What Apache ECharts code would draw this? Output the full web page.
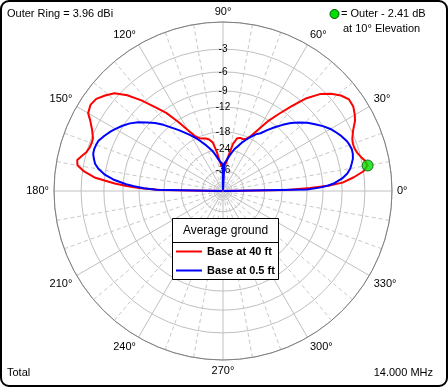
<!DOCTYPE html>
<html><head><meta charset="utf-8">
<script src="https://cdn.jsdelivr.net/npm/echarts@6/dist/echarts.min.js"></script>
<style>html,body{margin:0;padding:0;background:#fff}#c{width:448px;height:387px}</style>
</head><body><div id="c"></div>
<script>
// Elevation angles (degrees) shared by both series
const elev = [0,1,2,3,4,6,8,10,12,14,16,18,20,22,25,28,30,33,36,39,42,45,48,51,54,57,60,63,66,69,72,75,78,81,84,87,89,90,
  91,93,96,99,102,105,108,111,114,117,120,123,126,129,132,135,138,141,144,147,150,152,155,158,160,162,164,166,168,170,172,174,176,177,178,179,180];
// Base at 40 ft (dB relative to outer ring)
const redDb = [-99,-16.7,-11.4,-7.8,-5.9,-4.3,-3.0,-2.41,-2.6,-3.0,-3.3,-3.45,-3.45,-3.3,-2.8,-2.1,-1.8,-1.45,-1.4,-1.85,-2.6,-3.6,-5.2,-7.5,-9.8,-12.0,-14.8,-17.2,-18.6,-19.1,-19.0,-19.4,-21.5,-26.5,-31,-33,-33,-33,
  -33,-33,-30,-24.8,-21,-19.8,-19.2,-18.9,-18.4,-17.3,-15,-12.3,-9.6,-7.7,-5.6,-3.8,-2.5,-1.85,-1.3,-1.15,-1.4,-2.0,-2.7,-3.2,-3.25,-3.2,-3.0,-2.6,-2.16,-2.3,-3.2,-4.6,-7.6,-9.6,-12,-17,-99];
// Base at 0.5 ft
const blueDb = [-99,-12,-9.6,-8.1,-7.1,-5.9,-5.1,-4.6,-4.3,-4.0,-3.85,-3.8,-3.9,-4.05,-4.45,-4.95,-5.3,-6.0,-6.8,-7.6,-8.6,-9.7,-11.0,-12.4,-13.9,-15.4,-16.3,-17.6,-19.0,-20.4,-22.0,-23.5,-25.5,-27.5,-29.5,-31.0,-31.5,-99,
  -31.5,-31,-29.8,-28,-26,-24,-22.5,-21,-19.5,-18.0,-16.6,-15.3,-13.9,-12.5,-11.0,-9.7,-8.6,-7.5,-6.6,-5.9,-5.3,-4.9,-4.4,-3.95,-3.85,-3.8,-3.85,-4.1,-4.4,-5.0,-5.9,-7.3,-9.5,-11.0,-13.0,-16,-99];
const seriesNames = ['Base at 40 ft','Base at 0.5 ft'];
const ringDb = [0,-3,-6,-9,-12,-18,-24,-36,-50];
const ringLabelDb = [-3,-6,-9,-12,-18,-24,-36];
const cursorElev = 10, cursorDb = -2.41;
const outerRing = '3.96 dBi';
const freqText = '14.000 MHz';
const legendTitle = 'Average ground';

// ARRL log scale: each 2 dB = factor 0.89 in radius
const toR = db => Math.pow(0.89, -db / 2);
const FONT = 'Liberation Sans, Arial, sans-serif';
const C = [223, 191], R = 169;

const chart = echarts.init(document.getElementById('c'), null, {renderer: 'canvas'});
const ringR = ringDb.map(toR);
const labelR = ringLabelDb.map(toR);
function labelFor(v) {
  let best = 0, d = 1e9;
  labelR.forEach((r, i) => { if (Math.abs(r - v) < d) { d = Math.abs(r - v); best = i; } });
  return String(ringLabelDb[best]);
}

chart.setOption({
  animation: false,
  backgroundColor: '#fff',
  polar: [{center: C, radius: R}, {center: C, radius: R}],
  angleAxis: [{
    polarIndex: 0, type: 'value', min: 0, max: 360, interval: 30, startAngle: 0, clockwise: false,
    axisLine: {lineStyle: {color: '#808080', width: 1}},
    axisTick: {show: false},
    axisLabel: {margin: 5, color: '#000', fontSize: 11, fontFamily: FONT,
      formatter: v => (v >= 360 ? '' : v + '°')},
    splitLine: {show: true, lineStyle: {color: '#c0c0c0', width: 1}},
    minorTick: {show: false, splitNumber: 3},
    minorSplitLine: {show: true, lineStyle: {color: '#c8c8c8', width: 1, type: [4, 3]}}
  }, {
    polarIndex: 1, type: 'value', min: 0, max: 360, startAngle: 90, show: false
  }],
  radiusAxis: [{
    polarIndex: 0, type: 'value', min: 0, max: 1,
    axisLine: {show: false}, axisLabel: {show: false},
    axisTick: {show: false, customValues: ringR},
    splitLine: {show: true, lineStyle: {color: '#c0c0c0', width: 1}}
  }, {
    polarIndex: 1, type: 'value', min: 0, max: 1,
    axisLine: {show: false}, axisTick: {show: false}, splitLine: {show: false},
    axisLabel: {show: true, customValues: labelR, formatter: v => labelFor(v),
      margin: 0, align: 'center', verticalAlign: 'middle', color: '#000', fontSize: 10, fontFamily: FONT}
  }],
  legend: {
    orient: 'vertical', left: 176, top: 246, itemWidth: 26, itemHeight: 2, itemGap: 8,
    icon: 'rect', padding: 0, z: 20,
    textStyle: {fontWeight: 'bold', fontSize: 11, color: '#000', fontFamily: FONT},
    data: seriesNames
  },
  series: [
    {name: seriesNames[0], type: 'line', coordinateSystem: 'polar', polarIndex: 0, symbol: 'none', z: 5,
      color: '#ff0000', lineStyle: {color: '#ff0000', width: 2},
      data: elev.map((a, i) => [toR(redDb[i]), a])},
    {name: seriesNames[1], type: 'line', coordinateSystem: 'polar', polarIndex: 0, symbol: 'none', z: 6,
      color: '#0000ff', lineStyle: {color: '#0000ff', width: 2},
      data: elev.map((a, i) => [toR(blueDb[i]), a])},
    {name: 'cursor', type: 'scatter', coordinateSystem: 'polar', polarIndex: 0, z: 8,
      symbol: 'circle', symbolSize: 11,
      itemStyle: {color: '#00e000', borderColor: '#005000', borderWidth: 1},
      data: [[toR(cursorDb), cursorElev]]}
  ],
  graphic: [
    {type: 'rect', z: 15, shape: {x: 172.5, y: 218.5, width: 106, height: 61},
      style: {fill: '#fff', stroke: '#000', lineWidth: 1}},
    {type: 'line', z: 16, shape: {x1: 172.5, y1: 242.5, x2: 278.5, y2: 242.5},
      style: {stroke: '#000', lineWidth: 1}},
    {type: 'text', z: 16, x: 225.5, y: 230.5,
      style: {text: legendTitle, fill: '#000', font: '12px ' + FONT, textAlign: 'center', textVerticalAlign: 'middle'}},
    {type: 'text', z: 16, x: 7, y: 14,
      style: {text: 'Outer Ring = ' + outerRing, fill: '#000', font: '11px ' + FONT, textVerticalAlign: 'middle'}},
    {type: 'circle', z: 16, shape: {cx: 334.5, cy: 14, r: 4.5},
      style: {fill: '#00e000', stroke: '#005000', lineWidth: 1}},
    {type: 'text', z: 16, x: 341, y: 14,
      style: {text: '= Outer - ' + Math.abs(cursorDb).toFixed(2) + ' dB', fill: '#000', font: '11px ' + FONT, textVerticalAlign: 'middle'}},
    {type: 'text', z: 16, x: 343, y: 29,
      style: {text: 'at ' + cursorElev + '° Elevation', fill: '#000', font: '11px ' + FONT, textVerticalAlign: 'middle'}},
    {type: 'text', z: 16, x: 7, y: 373,
      style: {text: 'Total', fill: '#000', font: '11px ' + FONT, textVerticalAlign: 'middle'}},
    {type: 'text', z: 16, x: 433, y: 373,
      style: {text: freqText, fill: '#000', font: '11px ' + FONT, textAlign: 'right', textVerticalAlign: 'middle'}},
    {type: 'rect', z: 30, silent: true, shape: {x: 1, y: 1, width: 446, height: 385, r: 8},
      style: {fill: null, stroke: '#000', lineWidth: 2}}
  ]
});
</script></body></html>
